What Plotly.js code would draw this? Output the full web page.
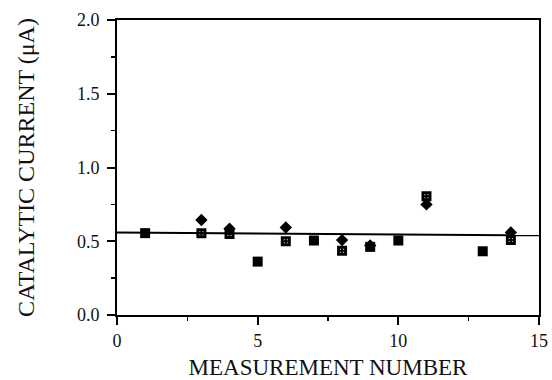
<!DOCTYPE html>
<html>
<head>
<meta charset="utf-8">
<script src="https://cdn.plot.ly/plotly-3.0.1.min.js"></script>
<style>html,body{margin:0;padding:0;background:#fff;font-family:'Liberation Serif';}#chart{width:552px;height:380px;}</style>
</head>
<body>
<div id="chart"></div>
<script>
// Data
const filledSquareX = [1, 5, 7, 9, 10, 13];
const filledSquareY = [0.555, 0.362, 0.505, 0.462, 0.505, 0.432];

const openSquareX = [3, 4, 6, 8, 11, 14];
const openSquareY = [0.555, 0.550, 0.500, 0.436, 0.805, 0.508];

const diamondX = [3, 4, 6, 8, 9, 11, 14];
const diamondY = [0.644, 0.585, 0.593, 0.508, 0.472, 0.750, 0.560];

const fitX = [0, 15];
const fitY = [0.559, 0.540];

const xTicks = [0, 5, 10, 15];
const yTicks = [0.0, 0.5, 1.0, 1.5, 2.0];
const yTickText = ['0.0', '0.5', '1.0', '1.5', '2.0'];

const font = 'Liberation Serif';

const traces = [
  {x: fitX, y: fitY, mode: 'lines', line: {color: '#000', width: 2}, hoverinfo: 'skip'},
  {x: filledSquareX, y: filledSquareY, mode: 'markers',
   marker: {symbol: 'square', size: 10, color: '#000'}},
  {x: diamondX, y: diamondY, mode: 'markers',
   marker: {symbol: 'diamond', size: 9.5, color: '#000'}},
  {x: openSquareX, y: openSquareY, mode: 'markers',
   marker: {symbol: 'square-open-dot', size: 7, color: '#000', line: {width: 3, color: '#000'}}}
];

const layout = {
  width: 552, height: 380,
  margin: {l: 117, r: 10.5, t: 17, b: 65},
  paper_bgcolor: '#fff', plot_bgcolor: '#fff',
  showlegend: false,
  font: {family: font, color: '#111', size: 18},
  xaxis: {
    range: [0, 15], tickvals: xTicks, ticktext: xTicks.map(String),
    ticks: 'outside', ticklen: 8, tickwidth: 2, tickcolor: '#000',
    showline: true, linewidth: 2, linecolor: '#000', mirror: true,
    showgrid: false, zeroline: false,
    minor: {dtick: 2.5, ticks: 'outside', ticklen: 4, tickwidth: 1.5, tickcolor: '#000', showgrid: false},
    tickfont: {family: font, size: 18, color: '#111'},
    title: {text: 'MEASUREMENT NUMBER', font: {family: font, size: 23, color: '#111'}}
  },
  yaxis: {
    range: [0, 2], tickvals: yTicks, ticktext: yTickText,
    ticks: 'outside', ticklen: 8, tickwidth: 2, tickcolor: '#000',
    ticklabelstandoff: 4,
    showline: true, linewidth: 2, linecolor: '#000', mirror: true,
    showgrid: false, zeroline: false, automargin: true,
    minor: {dtick: 0.25, ticks: 'outside', ticklen: 4, tickwidth: 1.5, tickcolor: '#000', showgrid: false},
    tickfont: {family: font, size: 18, color: '#111'},
    title: {text: 'CATALYTIC CURRENT (μA)', standoff: 36, font: {family: font, size: 24, color: '#111'}}
  }
};

function draw() {
  Plotly.newPlot('chart', traces, layout, {displayModeBar: false, staticPlot: true});
}
if (document.fonts && document.fonts.load) {
  document.fonts.load("22px 'Liberation Serif'", 'CATALYTIC 0.5').then(draw, draw);
} else {
  draw();
}
</script>
</body>
</html>
